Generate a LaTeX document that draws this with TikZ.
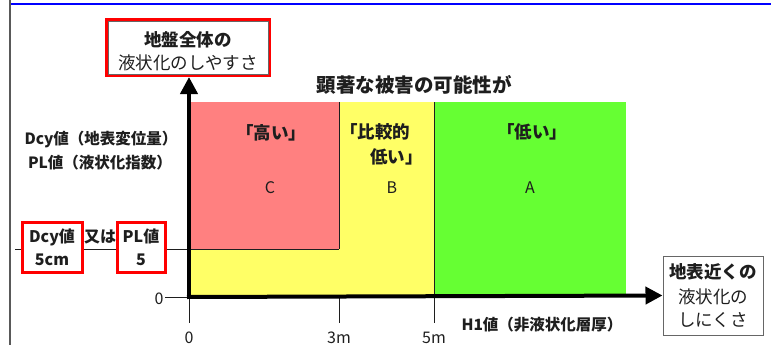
\documentclass[tikz,border=0pt]{standalone}
\usepackage{fontspec}
\setmainfont{Noto Sans CJK JP}
\usetikzlibrary{arrows.meta,calc}
\definecolor{pinkC}{RGB}{255,128,128}
\definecolor{yellowB}{RGB}{255,255,102}
\definecolor{greenA}{RGB}{102,255,51}
\definecolor{txt}{RGB}{30,30,30}
\definecolor{frameblue}{RGB}{0,0,255}
\tikzset{
  lbl/.style={inner sep=0pt, text=txt, font=\fontsize{16}{18}\selectfont},
  blbl/.style={lbl, font=\fontsize{16}{23}\selectfont\bfseries},
  thinline/.style={draw=txt, line width=0.8pt},
  axisline/.style={draw=black, line width=4pt, -{Triangle[length=17pt,width=17pt]}},
  redbox/.style={draw=red, line width=3pt, fill=white, inner sep=0pt, align=center, text=txt},
  graybox/.style={draw=gray!80!black, line width=1pt, fill=white, inner sep=0pt, align=center, text=txt}
}
\begin{document}
\begin{tikzpicture}[x=1pt,y=-1pt]
\useasboundingbox (0,0) rectangle (771,345);
% frame
\draw[frameblue, line width=2pt] (10,4) -- (771,4);
\draw[gray!70!black, line width=1.5pt] (10,0) -- (10,345);
% regions
\fill[yellowB] (189,102) rectangle (434,297);
\fill[greenA] (434,102) rectangle (626,297);
\fill[pinkC] (189,102) rectangle (339,249);
\coordinate (origin) at (189,297);
\coordinate (c3) at (339,297);
\coordinate (c5) at (434,297);
% lines
\draw[thinline] (339,102) -- (339,249);
\draw[thinline] (15,249) -- (339,249);
\draw[thinline] (434,102) -- (434,323);
\draw[thinline] (c3) -- ++(0,26);
\draw[thinline] (origin) -- ++(0,26);
\draw[thinline] (origin) -- ++(-24,0);
% boxes
\node[redbox, minimum width=163pt, minimum height=56pt] (topbox) at (188,47.5) {};
\draw[gray!80!black, line width=0.8pt] ($(topbox.north west)+(3,3)$) rectangle ($(topbox.south east)+(-3,-3)$);
\node[lbl, font=\fontsize{17.5}{23}\selectfont\bfseries] at (188,40) {地盤全体の};
\node[lbl, font=\fontsize{17.5}{23}\selectfont] at (188,63) {液状化のしやすさ};
\node[graybox, minimum width=100pt, minimum height=79pt] (rbox) at (713,295.5) {};
\node[lbl, font=\fontsize{17.5}{23}\selectfont\bfseries] at (713,272) {地表近くの};
\node[lbl, font=\fontsize{17.5}{23}\selectfont] at (713,297) {液状化の};
\node[lbl, font=\fontsize{17.5}{23}\selectfont] at (713,320) {しにくさ};
% axes
\draw[axisline] (origin) -- (origin |- topbox.south);
\draw[axisline] ([xshift=-2pt]origin) -- (rbox.west);
% small boxes
\node[redbox, minimum width=60pt, minimum height=50pt, font=\fontsize{16}{23}\selectfont\bfseries] (dcybox) at (52,247) {Dcy値\\5cm};
\node[blbl] (mata) at (100,237) {又は};
\node[redbox, minimum width=48pt, minimum height=50pt, font=\fontsize{16}{23}\selectfont\bfseries] (plbox) at (141,247) {PL値\\5};
% labels
\node[blbl, font=\fontsize{19.5}{23}\selectfont\bfseries] (title) at (414,85) {顕著な被害の可能性が};
\node[blbl, font=\fontsize{17.5}{23}\selectfont\bfseries] (takai) at (271,133) {「高い」};
\node[blbl, font=\fontsize{17.5}{23}\selectfont\bfseries, anchor=west] (hikaku1) at (340,132) {「比較的};
\node[blbl, font=\fontsize{17.5}{23}\selectfont\bfseries, anchor=east] (hikaku2) at (423,157) {低い」};
\node[blbl, font=\fontsize{17.5}{23}\selectfont\bfseries] (hikui) at (532,132) {「低い」};
\node[lbl] (C) at (270,188) {C};
\node[lbl] (B) at (392,188) {B};
\node[lbl] (A) at (530,188) {A};
\node[blbl, font=\fontsize{15.5}{23}\selectfont\bfseries] (dcy) at (101,140) {Dcy値（地表変位量）};
\node[blbl, font=\fontsize{15.5}{23}\selectfont\bfseries] (pl) at (100,163) {PL値（液状化指数）};
\node[lbl] (zeroy) at (159,299) {0};
\node[lbl] (zerox) at (189,338) {0};
\node[lbl] (three) at (339,338) {3m};
\node[lbl] (five) at (434,338) {5m};
\node[blbl, font=\fontsize{15.5}{23}\selectfont\bfseries] (h1) at (542,325) {H1値（非液状化層厚）};
\end{tikzpicture}
\end{document}
